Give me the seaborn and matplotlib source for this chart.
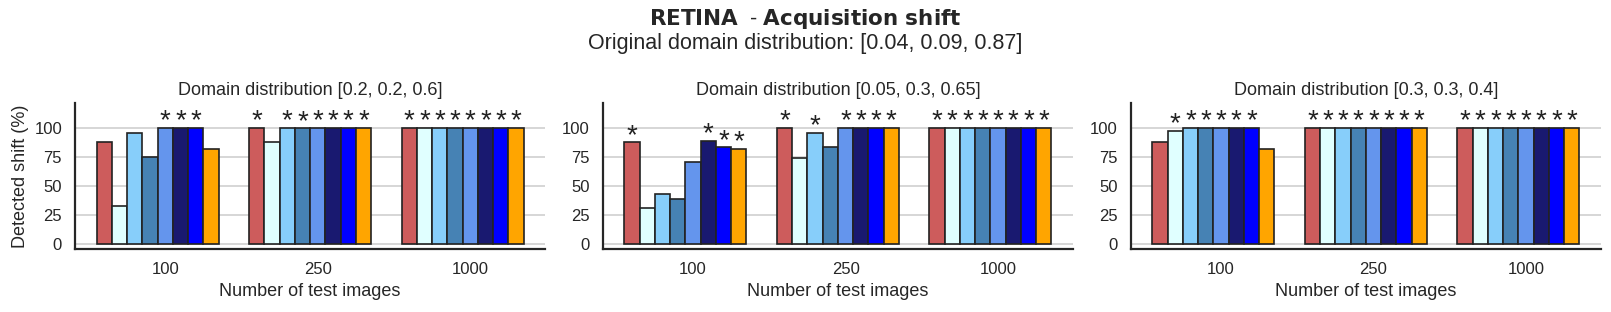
import matplotlib
matplotlib.use("Agg")
import matplotlib.pyplot as plt
import seaborn as sns
import numpy as np

sns.set_theme(style="whitegrid")
plt.rcParams['font.family'] = ['Liberation Sans', 'DejaVu Sans']

# data
N_IMAGES = ['100', '250', '1000']
COLORS = ['indianred', 'lightcyan', 'lightskyblue', 'steelblue',
          'cornflowerblue', 'midnightblue', 'blue', 'orange']
PANEL_TITLES = ['Domain distribution [0.2, 0.2, 0.6]',
                'Domain distribution [0.05, 0.3, 0.65]',
                'Domain distribution [0.3, 0.3, 0.4]']

# detected shift (%) per panel -> per number of images -> per method
shift_p1 = [[87.5, 32.5, 95.5, 75, 100, 100, 100, 82],
            [100, 87.5, 100, 99.5, 100, 100, 100, 100],
            [100, 100, 100, 100, 100, 100, 100, 100]]
shift_p2 = [[87.5, 31, 43, 38.5, 70.5, 88.5, 83, 82],
            [100, 74, 95.5, 83.5, 100, 100, 100, 100],
            [100, 100, 100, 100, 100, 100, 100, 100]]
shift_p3 = [[87.5, 97.5, 100, 100, 100, 100, 100, 82],
            [100, 100, 100, 100, 100, 100, 100, 100],
            [100, 100, 100, 100, 100, 100, 100, 100]]

# significance flags (1 = star)
sig_p1 = [[0, 0, 0, 0, 1, 1, 1, 0],
          [1, 0, 1, 1, 1, 1, 1, 1],
          [1, 1, 1, 1, 1, 1, 1, 1]]
sig_p2 = [[1, 0, 0, 0, 0, 1, 1, 1],
          [1, 0, 1, 0, 1, 1, 1, 1],
          [1, 1, 1, 1, 1, 1, 1, 1]]
sig_p3 = [[0, 1, 1, 1, 1, 1, 1, 0],
          [1, 1, 1, 1, 1, 1, 1, 1],
          [1, 1, 1, 1, 1, 1, 1, 1]]

shifts = [shift_p1, shift_p2, shift_p3]
sigs = [sig_p1, sig_p2, sig_p3]

fig, axes = plt.subplots(1, 3, figsize=(16.11, 3.12), dpi=100)
plt.subplots_adjust(left=0.0467, right=0.9936, bottom=0.202, top=0.669, wspace=0.124)

w = 0.1
for k, ax in enumerate(axes):
    vals = np.array(shifts[k])
    sig = np.array(sigs[k])
    for j, col in enumerate(COLORS):
        xs = np.arange(len(N_IMAGES)) + (j - 4) * w
        ax.bar(xs, vals[:, j], width=w, color=col, edgecolor='#222222', linewidth=1.2, zorder=3)
        for i in range(len(N_IMAGES)):
            if sig[i, j]:
                ax.text(xs[i], vals[i, j] - 0.5, '*', ha='center', va='baseline',
                        fontsize=20, color='#222222', zorder=4)
    ax.set_xticks(range(len(N_IMAGES)))
    ax.set_xticklabels(N_IMAGES, fontsize=12)
    ax.set_yticks([0, 25, 50, 75, 100])
    ax.tick_params(axis='y', labelsize=12)
    ax.set_ylim(-4.3, 121)
    ax.grid(axis='x', visible=False)
    ax.grid(axis='y', color='#d0d0d0', linewidth=1.2)
    ax.set_title(PANEL_TITLES[k], fontsize=13)
    ax.set_xlabel('Number of test images', fontsize=13)
    sns.despine(ax=ax)
    for s in ['left', 'bottom']:
        ax.spines[s].set_color('#262626')
        ax.spines[s].set_linewidth(1.6)

axes[0].set_ylabel('Detected shift (%)', fontsize=13)

fig.text(0.5, 0.938, r"$\bf{RETINA}$  - $\bf{Acquisition\ shift}$",
         ha='center', va='center', fontsize=15.5, color='#262626')
fig.text(0.5, 0.861, 'Original domain distribution: [0.04, 0.09, 0.87]',
         ha='center', va='center', fontsize=15.5, color='#262626')

fig.savefig('out.png', dpi=100)
